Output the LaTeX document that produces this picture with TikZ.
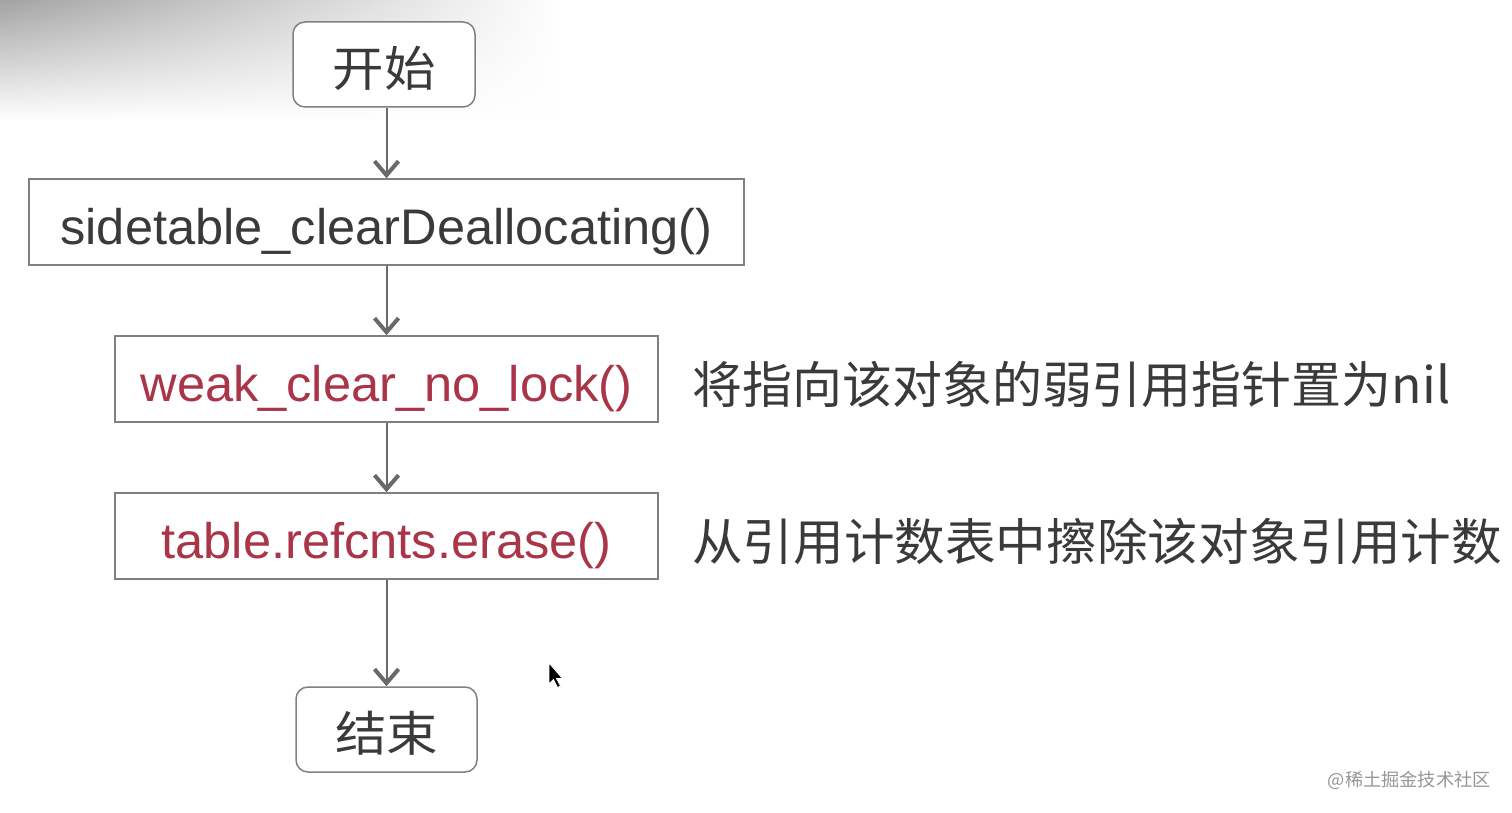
\documentclass[tikz,border=0pt]{standalone}
\usepackage{fontspec}
\setmainfont{Liberation Sans}
\newfontfamily\cjk{Noto Sans CJK SC}
\usetikzlibrary{arrows.meta,fadings}
\definecolor{boxline}{RGB}{128,128,128}
\definecolor{arrowc}{RGB}{105,105,105}
\definecolor{txtc}{RGB}{58,58,58}
\definecolor{redc}{RGB}{170,52,72}
\definecolor{wmc}{RGB}{150,150,150}
\newcommand{\fitw}[2]{\resizebox{#1}{\height}{#2}}
\newcommand{\lowered}[2]{\raisebox{-#1}[\height][\depth]{#2}}
\begin{document}
\begin{tikzpicture}[x=1pt,y=-1pt,
  procbox/.style={draw=boxline,line width=1.5pt,fill=white,rectangle,inner sep=0pt,text=txtc},
  termbox/.style={procbox,rounded corners=12pt},
  flow/.style={draw=arrowc,line width=2pt,-{Straight Barb[length=14pt,width=24pt,line width=4pt]}},
  note/.style={anchor=west,text=txtc,inner sep=0pt}]
\useasboundingbox (0,0) rectangle (1512,813);
\fill[white] (0,0) rectangle (1512,813);
% shadow at top left
\shade[top color=black!36,bottom color=white,path fading=east] (0,0) rectangle (560,120);
% nodes
\node[termbox,minimum width=182pt,minimum height=85pt] (start) at (384,64.5) {\lowered{4pt}{\fontsize{48}{50}\selectfont\cjk\fitw{103pt}{开始}}};
\node[procbox,minimum width=715pt,minimum height=86pt] (side) at (386.5,222) {\lowered{10pt}{\fontsize{50}{54}\selectfont\fitw{652pt}{sidetable\_clearDeallocating()}}};
\node[procbox,minimum width=543pt,minimum height=86pt,text=redc] (weak) at (386.5,379) {\lowered{10pt}{\fontsize{50}{54}\selectfont\fitw{492pt}{weak\_clear\_no\_lock()}}};
\node[procbox,minimum width=543pt,minimum height=86pt,text=redc] (table) at (386.5,536) {\lowered{10pt}{\fontsize{50}{54}\selectfont\fitw{450pt}{table.refcnts.erase()}}};
\node[termbox,minimum width=181pt,minimum height=85pt] (end) at (386.5,729.5) {\lowered{4pt}{\fontsize{48}{50}\selectfont\cjk\fitw{103pt}{结束}}};
% notes
\node[note] (n1) at (692,384) {\fontsize{50}{54}\selectfont\cjk\fitw{758pt}{将指向该对象的弱引用指针置为nil}};
\node[note] (n2) at (692,541) {\fontsize{50}{54}\selectfont\cjk\fitw{810pt}{从引用计数表中擦除该对象引用计数}};
% watermark
\node[anchor=east,text=wmc,inner sep=0pt] (wm) at (1491,780) {\fontsize{18}{20}\selectfont\cjk\fitw{163pt}{@稀土掘金技术社区}};
% connectors
\draw[flow] (start.south -| side.north) -- (side.north);
\draw[flow] (side) -- (weak);
\draw[flow] (weak) -- (table);
\draw[flow] (table.south) -- (end.north -| table.south);
% cursor
\coordinate (cur) at (549,663);
\fill[black,draw=white,line width=0.8pt] (cur) -- ++(0,21) -- ++(4.5,-4.5) -- ++(4,8) -- ++(3,-1.5) -- ++(-4,-7.5) -- ++(6,0) -- cycle;
\end{tikzpicture}
\end{document}
